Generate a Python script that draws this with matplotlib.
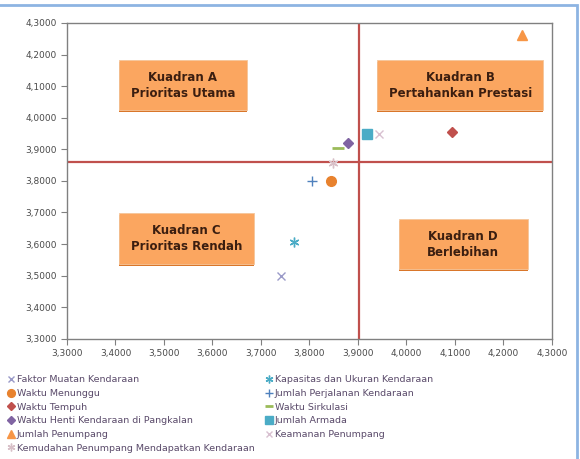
import numpy as np
import matplotlib
matplotlib.use("Agg")
import matplotlib.pyplot as plt
from matplotlib.patches import Rectangle
from matplotlib.ticker import FuncFormatter

# Data
series_names = [
    "Faktor Muatan Kendaraan",
    "Kapasitas dan Ukuran Kendaraan",
    "Waktu Menunggu",
    "Jumlah Perjalanan Kendaraan",
    "Waktu Tempuh",
    "Waktu Sirkulasi",
    "Waktu Henti Kendaraan di Pangkalan",
    "Jumlah Armada",
    "Jumlah Penumpang",
    "Keamanan Penumpang",
    "Kemudahan Penumpang Mendapatkan Kendaraan",
]
x_vals = [3.741, 3.769, 3.844, 3.806, 4.094, 3.858, 3.879, 3.919, 4.239, 3.943, 3.848]
y_vals = [3.499, 3.605, 3.800, 3.800, 3.954, 3.904, 3.920, 3.947, 4.262, 3.947, 3.856]
markers = ["x", (6, 2, 0), "o", "+", "D", "_", "D", "s", "^", "x", (6, 2, 0)]
colors = ["#9a9ac8", "#4bacc6", "#e8822e", "#4f81bd", "#c0504d", "#9bbb59",
          "#8064a2", "#4bacc6", "#f79646", "#d8c0d0", "#d8c0c8"]
sizes = [6, 7, 7, 7, 5, 8, 5, 7, 7, 6, 7]

x_mean = 3.9027
y_mean = 3.859

quadrants = [
    ("Kuadran A\nPrioritas Utama", (3.407, 4.024, 3.671, 4.183)),
    ("Kuadran B\nPertahankan Prestasi", (3.940, 4.024, 4.282, 4.183)),
    ("Kuadran C\nPrioritas Rendah", (3.407, 3.536, 3.685, 3.697)),
    ("Kuadran D\nBerlebihan", (3.984, 3.520, 4.250, 3.680)),
]

fig = plt.figure(figsize=(5.8, 4.59), dpi=100)
ax = fig.add_axes([0.1155, 0.262, 0.836, 0.688])

# outer chart border
fig.patches.append(Rectangle((-0.01, -0.01), 1.005, 0.999, transform=fig.transFigure,
                             fill=False, edgecolor="#8db4e2", linewidth=2.0))

ax.axvline(x_mean, color="#c0504d", linewidth=1.6, zorder=1)
ax.axhline(y_mean, color="#c0504d", linewidth=1.6, zorder=1)

for label, (x0, y0, x1, y1) in quadrants:
    # shadow / darker bottom edge
    ax.add_patch(Rectangle((x0, y0 - 0.006), x1 - x0, y1 - y0, facecolor="#d9762a",
                           edgecolor="none", zorder=2))
    ax.add_patch(Rectangle((x0, y0), x1 - x0, y1 - y0, facecolor="#fba660",
                           edgecolor="#f5c59a", linewidth=0.6, zorder=3))
    ax.text((x0 + x1) / 2, (y0 + y1) / 2, label, ha="center", va="center",
            fontsize=8.5, fontweight="bold", color="#3b1e10", zorder=4,
            linespacing=1.3)

for name, xv, yv, m, c, s in zip(series_names, x_vals, y_vals, markers, colors, sizes):
    lw = 2.0 if m == "_" else 1.0
    ax.plot([xv], [yv], linestyle="none", marker=m, color=c, markersize=s,
            markeredgewidth=lw, label=name, zorder=5)

ax.set_xlim(3.3, 4.3)
ax.set_ylim(3.3, 4.3)
ax.set_xticks(np.arange(3.3, 4.31, 0.1))
ax.set_yticks(np.arange(3.3, 4.31, 0.1))
fmt = FuncFormatter(lambda v, p: f"{v:.4f}".replace(".", ","))
ax.xaxis.set_major_formatter(fmt)
ax.yaxis.set_major_formatter(fmt)
ax.tick_params(labelsize=6.5, labelcolor="#4a4a4a", color="#808080", length=4, width=0.8)
for sp in ax.spines.values():
    sp.set_color("#808080")
    sp.set_linewidth(1.0)

handles, labels = ax.get_legend_handles_labels()
order = [0, 2, 4, 6, 8, 10, 1, 3, 5, 7, 9]
leg = fig.legend([handles[i] for i in order], [labels[i] for i in order],
                 loc="upper left", bbox_to_anchor=(0.008, 0.191), ncol=2,
                 frameon=False, fontsize=6.8, handlelength=0.6, handletextpad=0.3,
                 columnspacing=1.2, labelspacing=0.5, borderaxespad=0,
                 markerscale=0.8)
for t in leg.get_texts():
    t.set_color("#5a4a6a")

fig.savefig("out.png", dpi=100)
